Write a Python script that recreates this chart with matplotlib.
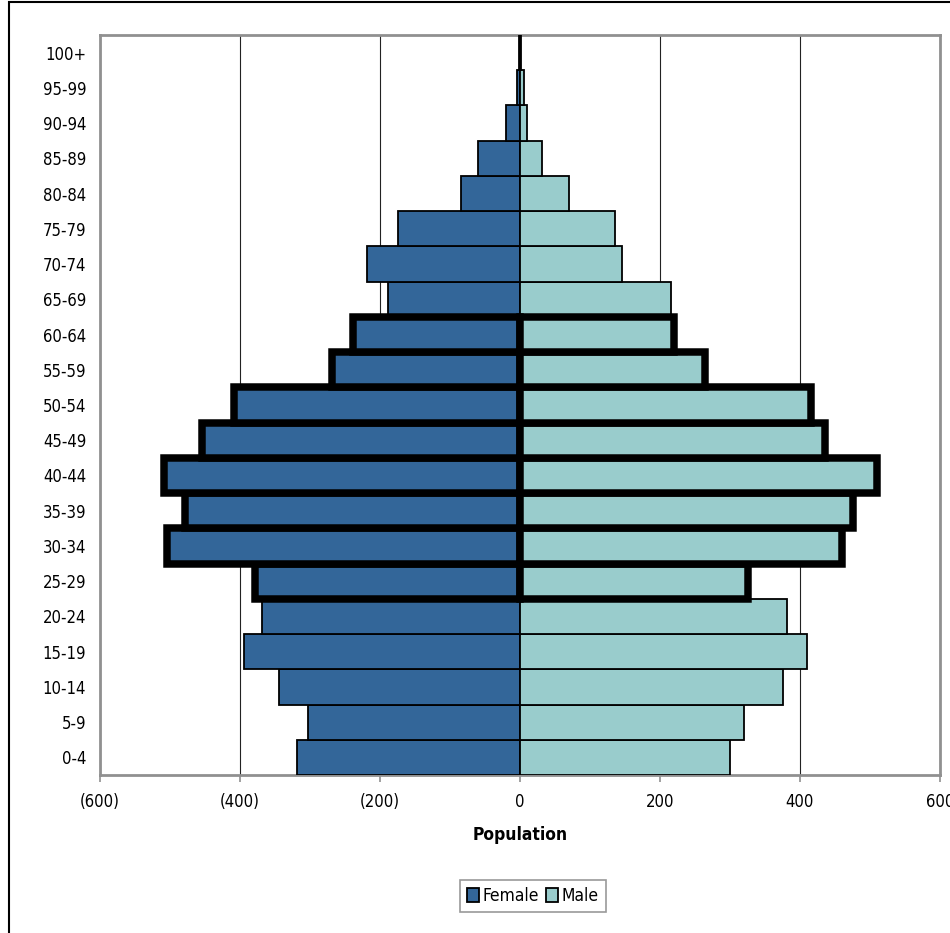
import matplotlib.pyplot as plt
from matplotlib.patches import Patch, Rectangle
from matplotlib.ticker import FuncFormatter

# Age groups, bottom to top
ages = ['0-4', '5-9', '10-14', '15-19', '20-24', '25-29', '30-34', '35-39',
        '40-44', '45-49', '50-54', '55-59', '60-64', '65-69', '70-74',
        '75-79', '80-84', '85-89', '90-94', '95-99', '100+']
female = [319, 303, 344, 394, 369, 379, 504, 479, 509, 454, 409, 268,
          239, 189, 219, 175, 84, 60, 20, 5, 1]
male = [300, 320, 375, 410, 381, 325, 460, 475, 510, 435, 415, 264,
        220, 215, 146, 136, 70, 31, 10, 6, 1]
# age groups drawn with a heavy outline
highlight = ['25-29', '30-34', '35-39', '40-44', '45-49', '50-54', '55-59', '60-64']

female_color = '#336699'
male_color = '#99CCCC'

plt.rcParams['font.family'] = ['DejaVu Sans']
plt.rcParams['font.stretch'] = 'condensed'

fig = plt.figure(figsize=(9.5, 9.33), dpi=100)
ax = fig.add_axes([100 / 950, 1 - 775 / 933, 840 / 950, 740 / 933])

ypos = list(range(len(ages)))
thin = [i for i, a in enumerate(ages) if a not in highlight]
thick = [i for i, a in enumerate(ages) if a in highlight]

# normal bars first, highlighted ones on top
for idx, lw, z in [(thin, 1.3, 3), (thick, 5.4, 4)]:
    ax.barh([ypos[i] for i in idx], [-female[i] for i in idx], height=1.0,
            color=female_color, edgecolor='black', linewidth=lw, zorder=z)
    ax.barh([ypos[i] for i in idx], [male[i] for i in idx], height=1.0,
            color=male_color, edgecolor='black', linewidth=lw, zorder=z)

ax.set_xlim(-600, 600)
ax.set_ylim(-0.5, len(ages) - 0.5)
ax.set_xticks(range(-600, 601, 200))
ax.xaxis.set_major_formatter(FuncFormatter(
    lambda v, p: '({:,.0f})'.format(-v) if v < 0 else '{:,.0f}'.format(v)))
ax.set_yticks(ypos)
ax.set_yticklabels(ages)

ax.grid(axis='x', color='#222222', linewidth=0.8, zorder=0)
ax.set_axisbelow(True)
for s in ax.spines.values():
    s.set_color('#909090')
    s.set_linewidth(2)

ax.tick_params(axis='y', length=0, pad=10, labelsize=12)
ax.tick_params(axis='x', length=5, width=1.2, color='#909090', pad=8, labelsize=12)

ax.set_xlabel('Population', fontsize=12.5, fontweight='bold', labelpad=11)

leg = fig.legend(handles=[Patch(facecolor=female_color, edgecolor='black', linewidth=1.3, label='Female'),
                          Patch(facecolor=male_color, edgecolor='black', linewidth=1.3, label='Male')],
                 loc='center', bbox_to_anchor=(533 / 950, 1 - 896 / 933), ncol=2,
                 fontsize=12.5, frameon=True, fancybox=False, edgecolor='#808080',
                 handlelength=0.7, handleheight=0.9, handletextpad=0.2, columnspacing=0.4,
                 borderpad=0.4, borderaxespad=0)
leg.get_frame().set_linewidth(1.2)

# outer chart frame
fig.patches.append(Rectangle((9 / 950, -0.02), 1.0, 1.02 - 2.5 / 933, transform=fig.transFigure,
                             fill=False, edgecolor='black', linewidth=1.5))

fig.savefig('out.png', dpi=100)
